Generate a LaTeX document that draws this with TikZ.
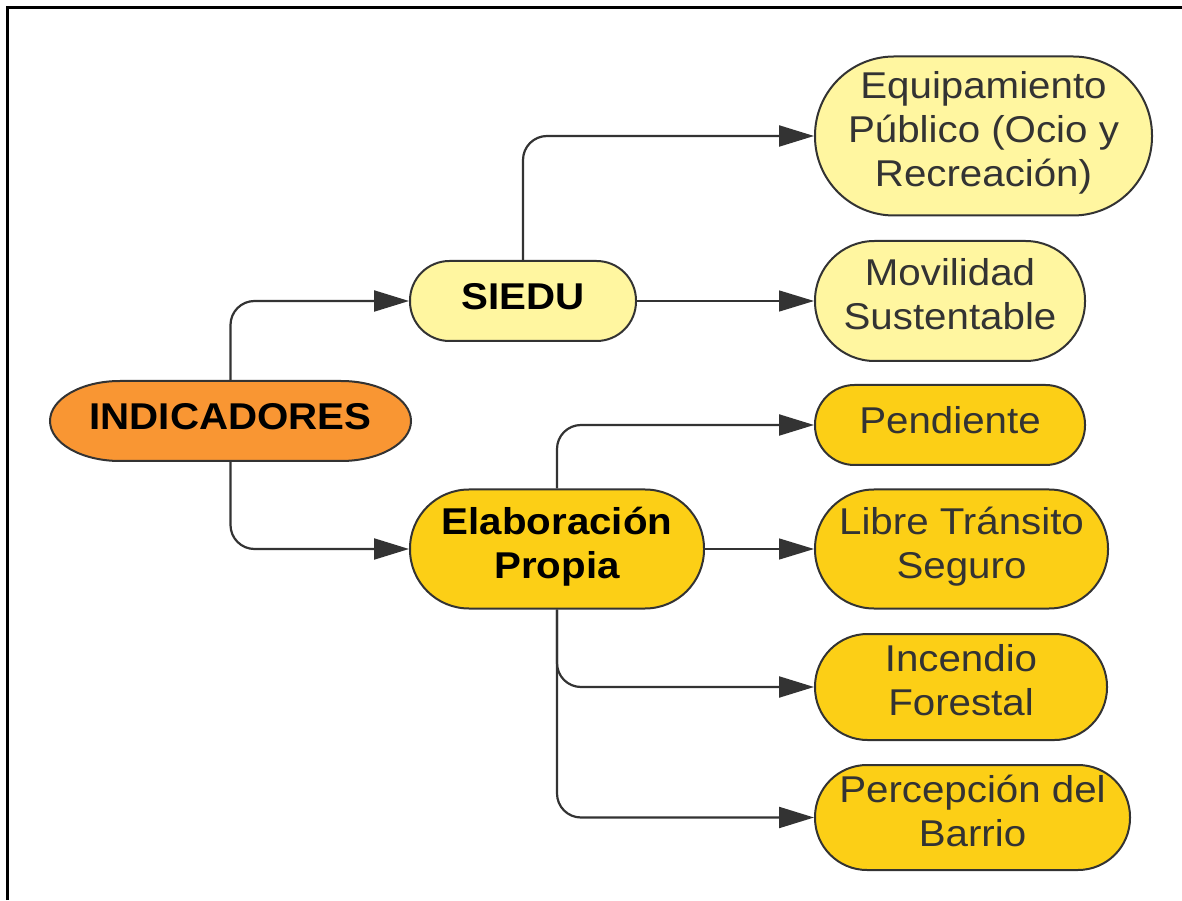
\documentclass[tikz,border=0pt]{standalone}
\usepackage{fontspec}
\setmainfont{Liberation Sans}[FakeStretch=1.08]
\usetikzlibrary{arrows.meta}
\definecolor{orangefill}{HTML}{F99633}
\definecolor{lightyel}{HTML}{FFF6A0}
\definecolor{goldfill}{HTML}{FCCF16}
\definecolor{darkline}{HTML}{333333}
\begin{document}
\begin{tikzpicture}[x=1pt,y=1pt,
  basebox/.style={draw=darkline, line width=2pt, align=center, inner sep=0pt,
    font=\fontsize{37.3}{44}\selectfont,
    execute at begin node=\strut, execute at end node=\strut},
  parentbox/.style={basebox, font=\fontsize{37.3}{44}\selectfont\bfseries, text=black},
  childbox/.style={basebox, text=darkline},
  conn/.style={draw=darkline, line width=2.2pt, rounded corners=24pt,
    -{Triangle[length=35pt,width=21pt]}},
  thinconn/.style={conn, line width=1.4pt}
]
\useasboundingbox (0,0) rectangle (1182,900);
% frame (left and top edges visible)
\draw[line width=2.5pt, black] (7.5,0) -- (7.5,892.5) -- (1182,892.5);

% root node shape with elliptical ends
\filldraw[fill=orangefill, draw=darkline, line width=2pt]
  (120,519) -- (341,519)
  .. controls (379.66,519) and (411,501.09) .. (411,479)
  .. controls (411,456.91) and (379.66,439) .. (341,439)
  -- (120,439)
  .. controls (81.34,439) and (50,456.91) .. (50,479)
  .. controls (50,501.09) and (81.34,519) .. (120,519) -- cycle;
\node[parentbox, draw=none, minimum width=361pt, minimum height=80pt] (ind) at (230.5,479) {INDICADORES};

\node[parentbox, fill=lightyel, minimum width=226pt, minimum height=80pt, rounded corners=39.5pt] (siedu) at (523,599) {SIEDU};
\node[parentbox, fill=goldfill, minimum width=294pt, minimum height=119pt, rounded corners=59pt] (elab) at (557,351) {Elaboración\\Propia};

\node[childbox, fill=lightyel, minimum width=337pt, minimum height=159pt, rounded corners=79pt] (equip) at (983.5,764) {Equipamiento\\Público (Ocio y\\Recreación)};
\node[childbox, fill=lightyel, minimum width=270pt, minimum height=120pt, rounded corners=59.5pt] (movil) at (950,599) {Movilidad\\Sustentable};
\node[childbox, fill=goldfill, minimum width=270pt, minimum height=80pt, rounded corners=39.5pt] (pend) at (950,475) {Pendiente};
\node[childbox, fill=goldfill, minimum width=293pt, minimum height=119pt, rounded corners=59pt] (libre) at (961.5,351) {Libre Tránsito\\Seguro};
\node[childbox, fill=goldfill, minimum width=292pt, minimum height=106pt, rounded corners=52.5pt] (incen) at (961,213) {Incendio\\Forestal};
\node[childbox, fill=goldfill, minimum width=315pt, minimum height=105pt, rounded corners=52pt] (perc) at (972.5,82.5) {Percepción del\\Barrio};

% connectors
\draw[conn] (ind.north) |- (siedu.west);
\draw[conn] (ind.south) |- (elab.west);
\draw[conn] (siedu.north) |- (equip.west);
\draw[thinconn] (siedu.east) -- (movil.west);
\draw[conn] (elab.north) |- (pend.west);
\draw[thinconn] (elab.east) -- (libre.west);
\draw[conn] (elab.south) |- (incen.west);
\draw[conn] (elab.south) |- (perc.west);
\end{tikzpicture}
\end{document}
